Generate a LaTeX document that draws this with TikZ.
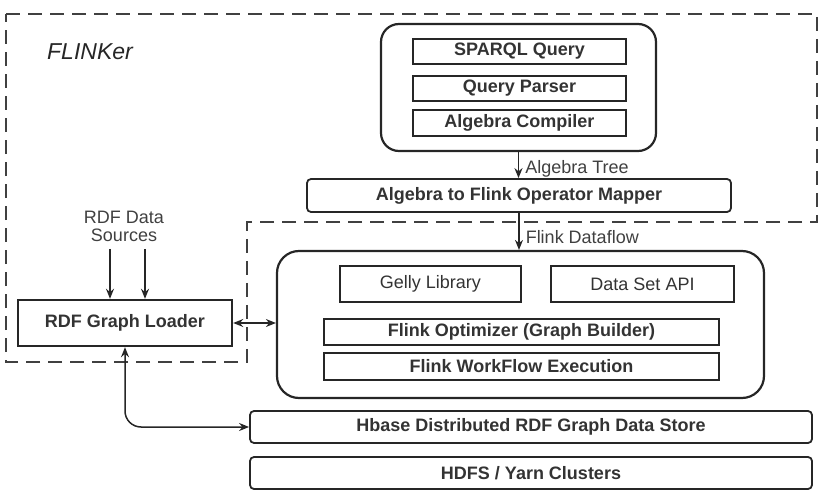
\documentclass[tikz,border=0pt]{standalone}
\usepackage{fontspec}
\setmainfont{Liberation Sans}
\usetikzlibrary{arrows.meta, positioning, calc}
\newcommand{\flowD}[3]
{
	\draw[arr] (#1.south) -- (#1.south |- #2.north) node[pos=0.65, right, lbl, xshift=3] {#3}
}

\begin{document}
\begin{tikzpicture}[x=0.5pt, y=-0.5pt,
			blk/.style={draw=black!85, line width=0.9pt, rectangle, inner sep=0,
				font=\fontsize{9}{11}\selectfont\bfseries, text=black!80},
			plain/.style={blk, font=\fontsize{9}{11}\selectfont},
			cont/.style={draw=black!85, line width=1.1pt, rounded corners=9pt, inner sep=0},
			lbl/.style={font=\fontsize{9}{11}\selectfont, text=black!75, inner sep=0},
			arr/.style={-{Stealth[length=5pt, width=4pt]}, line width=0.75pt, black!85},
			arrs/.style={{Stealth[length=5pt, width=4pt]}-{Stealth[length=5pt, width=4pt]}, line width=0.75pt, black!85}]
	\useasboundingbox (0,0) rectangle (831,492);

	% FLINKer boundary
	\draw[dash pattern=on 7pt off 4pt, line width=1pt, black!75]
		(6,14) -- (817,14) -- (817,222) -- (247,222) -- (247,362) -- (6,362) -- cycle;
	\node[font=\fontsize{11.5}{13}\selectfont\itshape, text=black!85] at (90, 52) (flinker){FLINKer};

	% query side
	\node[cont, minimum width=137.5pt, minimum height=63.5pt] at (518.5, 87.5) (qcont){};
	\node[blk, minimum width=106.5pt, minimum height=12.5pt] at (519.5, 51.5) (sparql){SPARQL Query};
	\node[blk, minimum width=106.5pt, minimum height=12.5pt] at (519.5, 88.5) (parser){Query Parser};
	\node[blk, minimum width=106.5pt, minimum height=13pt] at (519.5, 123) (compiler){Algebra Compiler};
	\node[blk, rounded corners=2pt, minimum width=212pt, minimum height=16.5pt] at (519, 195.5) (mapper){Algebra to Flink Operator Mapper};

	% flink runtime
	\node[cont, rounded corners=11pt, minimum width=243.5pt, minimum height=73.5pt] at (520.5, 324.5) (fcont){};
	\node[plain, minimum width=90.5pt, minimum height=18pt] at (430.5, 284) (gelly){Gelly Library};
	\node[plain, minimum width=91.5pt, minimum height=18pt] at (642.5, 284) (dsapi){Data Set API};
	\node[blk, minimum width=197.5pt, minimum height=13pt] at (521.5, 332) (optim){Flink Optimizer (Graph Builder)};
	\node[blk, minimum width=197.5pt, minimum height=13.5pt] at (521.5, 366.5) (wflow){Flink WorkFlow Execution};

	% storage
	\node[blk, rounded corners=2pt, minimum width=281pt, minimum height=16pt] at (531, 427) (hbase){Hbase Distributed RDF Graph Data Store};
	\node[blk, rounded corners=2pt, minimum width=281pt, minimum height=16pt] at (531, 473) (hdfs){HDFS / Yarn Clusters};

	% loader
	\node[blk, line width=1.2pt, minimum width=107pt, minimum height=23pt] at (125, 323) (loader){RDF Graph Loader};
	\node[lbl, align=center, font=\fontsize{9}{9}\selectfont] at (124, 226) (src){RDF Data\\Sources};
	\coordinate (s1) at (110, 249);
	\coordinate (s2) at (145, 249);

	\flowD{qcont}{mapper}{Algebra Tree};
	\flowD{mapper}{fcont}{Flink Dataflow};
	\draw[arr] (s1) -- (s1 |- loader.north);
	\draw[arr] (s2) -- (s2 |- loader.north);
	\draw[arrs] (loader.east) -- (loader.east -| fcont.west);
	\draw[arrs, rounded corners=8pt] (loader.south) |- (hbase.west);
\end{tikzpicture}
\end{document}
